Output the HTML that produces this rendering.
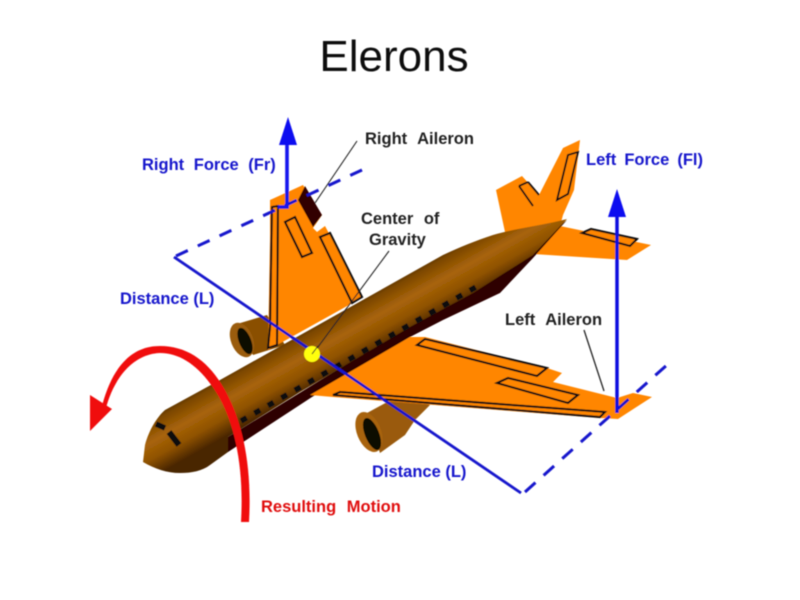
<!DOCTYPE html>
<html><head><meta charset="utf-8"><style>
html,body{margin:0;padding:0;background:#fff}
svg{display:block}
text{font-family:"Liberation Sans",sans-serif}
.l{font-weight:bold;font-size:16.5px;word-spacing:6px}
</style></head><body>
<svg width="800" height="600" viewBox="0 0 800 600" xmlns="http://www.w3.org/2000/svg">
<defs>
<linearGradient id="f" gradientUnits="userSpaceOnUse" x1="288" y1="336" x2="316" y2="386">
<stop offset="0" stop-color="#4a2a00"/><stop offset=".15" stop-color="#7c4704"/><stop offset=".45" stop-color="#a86408"/><stop offset=".72" stop-color="#8f5204"/><stop offset="1" stop-color="#4a2600"/>
</linearGradient>
<filter id="b" x="-5%" y="-5%" width="110%" height="110%"><feGaussianBlur stdDeviation="0.6"/></filter>
</defs>
<text x="394" y="71" font-size="44" text-anchor="middle" fill="#111" filter="url(#b)">Elerons</text>
<g filter="url(#b)">
<!-- tail -->
<polygon points="496,190 522,176 539,195 563,148 580,140 574,190 563,215 560,226 651,245 627,260 533,254 505,232" fill="#ff8605"/>
<path d="M519,186 L533,206 M528,182 L539,195 M519,186 L528,182" fill="none" stroke="#111" stroke-width="1.9"/>
<polygon points="568,155 578,152 568,194 557,200" fill="#ff8605" stroke="#111" stroke-width="1.9"/>
<polygon points="582,233 591,229 637,239 630,246" fill="#ff8605" stroke="#111" stroke-width="2.1"/>
<!-- far engine -->
<polygon points="237,324 267,315 285,345 253,355" fill="#8a5006"/>
<ellipse cx="242" cy="340" rx="11" ry="18" transform="rotate(-22 242 340)" fill="#9a5c0a"/>
<ellipse cx="245" cy="341" rx="6" ry="14" transform="rotate(-22 245 341)" fill="#0c0805"/>
<!-- right wing -->
<polygon points="270,200 303,185 322,215 313,228 317,232 325,226 363,297 340,310 268,350 270,240" fill="#ff8605"/>
<polygon points="305,186 322,215 313,227 298,200" fill="#300404"/>
<polygon points="272,207 278,206 277,345 268,348 270,327" fill="#ff8605" stroke="#111" stroke-width="2.1"/>
<polygon points="285,222 295,217 312,253 302,257" fill="#ff8605" stroke="#111" stroke-width="2.1"/>
<polygon points="320,237 330,233 362,297 352,303" fill="#ff8605" stroke="#111" stroke-width="2.1"/>
<!-- near engine -->
<polygon points="367,413 400,395 430,405 415,420 405,435 380,453" fill="#9a5a08"/>
<ellipse cx="369" cy="432" rx="12" ry="21" transform="rotate(-22 369 432)" fill="#a8640c"/>
<ellipse cx="372" cy="434" rx="7" ry="17" transform="rotate(-22 372 434)" fill="#0c0805"/>
<!-- fuselage underside -->
<polygon points="228,437 228,452 312,397 410,337 443,320 500,293 533,258 567,220 473,290 410,325" fill="#2e0604"/>
<!-- left wing -->
<polygon points="310,395 410,337 425,337 547,368 562,373 553,382 617,398 633,393 652,397 618,419 600,418 333,397" fill="#ff8605"/>
<polygon points="333,395 340,392 605,412 600,417" fill="#ff8605" stroke="#111" stroke-width="2.1"/>
<polygon points="417,345 425,339 547,368 537,376" fill="#ff8605" stroke="#111" stroke-width="2.1"/>
<polygon points="497,383 508,378 578,395 568,403" fill="#ff8605" stroke="#111" stroke-width="2.1"/>
<!-- fuselage -->
<path d="M567,219 C545,225 517,228 493,235 C475,241 460,247 443,255 L220,380 L165,410 C157,417 149,430 145,445 L143,462 C155,469 167,473 180,473 C192,473 202,471 210,465 L228,452 L228,437 L300,392 L410,327 L473,293 L533,255Z" fill="url(#f)"/>
<line x1="241" y1="421" x2="476" y2="287" stroke="#111" stroke-width="5.5" stroke-dasharray="6.5 9"/>
<line x1="156" y1="424" x2="165" y2="428" stroke="#111" stroke-width="5.5"/>
<line x1="169" y1="432" x2="179" y2="445" stroke="#111" stroke-width="6"/>
<!-- blue lines -->
<line x1="174" y1="257" x2="521" y2="493" stroke="#1212cc" stroke-width="2.8"/>
<line x1="176" y1="256" x2="362" y2="170" stroke="#1212cc" stroke-width="3" stroke-dasharray="13 11"/>
<line x1="525" y1="492" x2="668" y2="364" stroke="#1212cc" stroke-width="3" stroke-dasharray="14 11"/>
<path d="M287,143 V207 H278" fill="none" stroke="#1212ee" stroke-width="3.6"/>
<polygon points="288,117 297,145 279,145" fill="#1010f0"/>
<line x1="617" y1="215" x2="617" y2="413" stroke="#1010e0" stroke-width="3.5"/>
<polygon points="617,189 626,217 608,217" fill="#1010f0"/>
<!-- leaders -->
<line x1="357" y1="141" x2="315" y2="203" stroke="#222" stroke-width="1.1"/>
<line x1="389" y1="251" x2="315" y2="351" stroke="#222" stroke-width="1.1"/>
<line x1="584" y1="330" x2="604" y2="391" stroke="#222" stroke-width="1.3"/>
<!-- cg -->
<circle cx="312" cy="354" r="8" fill="#ffff10"/>
<line x1="312" y1="354" x2="318" y2="346" stroke="#222" stroke-width="1"/>
<!-- red motion -->
<path d="M241,522 C244,470 236,428 219,397 C202,368 182,353 160,353 C133,354 114,378 106,408 L102,406 C111,372 128,346 160,346 C188,346 210,362 226,392 C244,425 252,470 249,522Z" fill="#f01010"/>
<polygon points="90,395 112,409 90,431" fill="#f01010"/>
<!-- labels -->
<text class="l" x="142" y="170" fill="#1515cc" style="word-spacing:5px">Right Force (Fr)</text>
<text class="l" x="365" y="144" fill="#222">Right Aileron</text>
<text class="l" x="361" y="224" fill="#222">Center of</text>
<text class="l" x="369" y="245" fill="#222" style="word-spacing:0">Gravity</text>
<text class="l" x="586" y="165" fill="#1515cc" style="word-spacing:3.5px">Left Force (Fl)</text>
<text class="l" x="120" y="304" fill="#1515cc" style="word-spacing:0">Distance (L)</text>
<text class="l" x="505" y="325" fill="#222">Left Aileron</text>
<text class="l" x="372" y="477" fill="#1515cc" style="word-spacing:0">Distance (L)</text>
<text class="l" x="261" y="512" fill="#e01010">Resulting Motion</text>
</g>
</svg>
</body></html>
